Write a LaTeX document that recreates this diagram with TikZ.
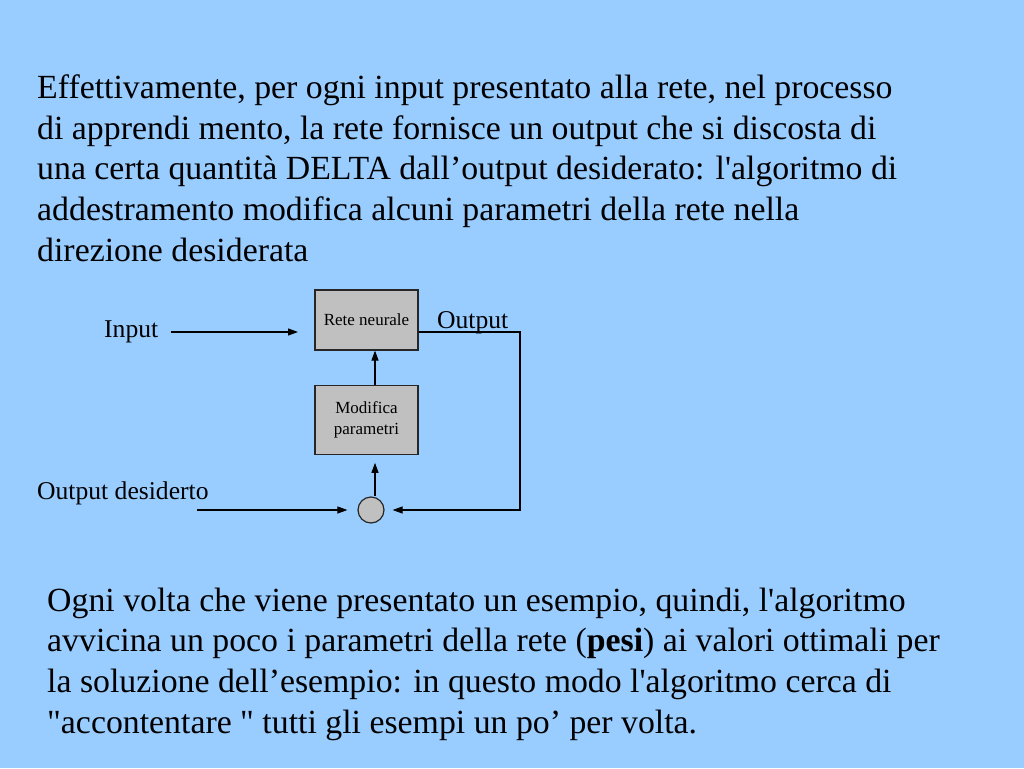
\documentclass[tikz,border=0pt]{standalone}
\usepackage{fontspec}
\setmainfont{Liberation Serif}[Ligatures=TeXOff]
\usetikzlibrary{positioning,arrows.meta}
\definecolor{slideblue}{RGB}{153,204,255}
\definecolor{boxgray}{RGB}{192,192,192}

\tikzset{
  netbox/.style={draw=black!85, fill=boxgray, line width=1.2pt, minimum width=103pt,
    align=center, inner sep=0pt, font=\fontsize{17}{21.5}\selectfont},
  sumnode/.style={circle, draw=black!85, fill=boxgray, line width=1.2pt,
    minimum size=26pt, inner sep=0pt},
  lbl/.style={inner sep=0pt, font=\fontsize{25.6}{30}\selectfont},
  para/.style={align=left, inner sep=0pt, font=\fontsize{33.8}{40.6}\selectfont},
  arr/.style={-{Triangle[length=10pt,width=7pt]}, line width=1.1pt},
}

\begin{document}
\begin{tikzpicture}[x=1pt,y=-1pt]
    \fill[slideblue] (0,0) rectangle (1024,768);
    \useasboundingbox (0,0) rectangle (1024,768);

    \node[para, anchor=base west] (intro) at (37,261) {Effettivamente, per ogni input presentato alla rete, nel processo\\
      di apprendi mento, la rete fornisce un output che si discosta di\\
      una certa quantità DELTA dall’output desiderato: l'algoritmo di\\
      addestramento modifica alcuni parametri della rete nella\\
      direzione desiderata};

    \node[netbox, minimum height=60pt] (rete) at (366.5,320) {Rete neurale};
    \node[netbox, minimum height=69pt, below=34pt of rete] (modifica) {Modifica\\parametri};
    \node[sumnode] (somma) at (371,510) {};

    \node[lbl, anchor=base west] (input) at (104,337) {Input};
    \node[lbl, anchor=base west] (output) at (437,328) {Output};
    \node[lbl, anchor=base west] (desiderato) at (37,499) {Output desiderto};

    \coordinate (ingresso) at (298,332);
    \coordinate (svolta) at (520,332);
    \coordinate (partenza) at (197,510);

    \draw[arr] ([xshift=13pt]input.east |- ingresso) -- (ingresso);
    \draw[arr] ([xshift=8.5pt]modifica.north) -- ([xshift=8.5pt]rete.south);
    \draw[arr] ([xshift=4pt]somma.north) -- ([xshift=8.5pt,yshift=-8pt]modifica.south);
    \draw[arr] ([yshift=-12pt]rete.east) -- (svolta) |- ([xshift=8pt]somma.east);
    \draw[arr] (partenza) -- ([xshift=-10pt]somma.west);

    \node[para, anchor=base west] (esempio) at (47,733) {Ogni volta che viene presentato un esempio, quindi, l'algoritmo\\
      avvicina un poco i parametri della rete (\textbf{pesi}) ai valori ottimali per\\
      la soluzione dell’esempio: in questo modo l'algoritmo cerca di\\
      "accontentare " tutti gli esempi un po’ per volta.};
\end{tikzpicture}
\end{document}
